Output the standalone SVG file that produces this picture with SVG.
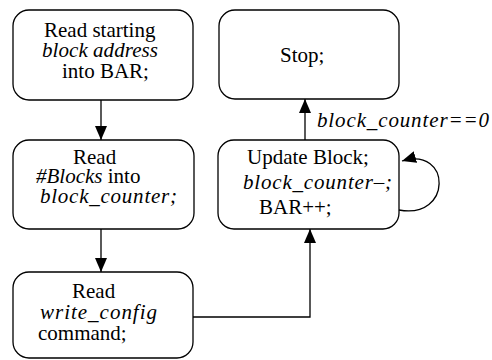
<svg xmlns="http://www.w3.org/2000/svg" width="492" height="360" viewBox="0 0 492 360">
<style>
.box{fill:#fff;stroke:#000;stroke-width:1.3}
text{font-family:'Liberation Serif','Times New Roman',serif;font-size:21px;fill:#000}
.i{font-style:italic}
.c{fill:none;stroke:#000;stroke-width:1.3}
</style>
<defs>
<marker id="ah" markerWidth="14" markerHeight="12" refX="14" refY="6" orient="auto" markerUnits="userSpaceOnUse">
<path d="M0,0 L14,6 L0,12 Z" fill="#000"/>
</marker>
</defs>
<g id="n1">
<rect class="box" x="13" y="10" width="180" height="90" rx="16"/>
<text x="44" y="37">Read starting</text>
<text class="i" x="42" y="57" textLength="116" lengthAdjust="spacing">block address</text>
<text x="62" y="78">into BAR;</text>
</g>
<g id="n2">
<rect class="box" x="13" y="140" width="181" height="89" rx="16"/>
<text x="73" y="164">Read</text>
<text x="36" y="183"><tspan class="i">#Blocks</tspan> into</text>
<text class="i" x="40" y="203" textLength="137" lengthAdjust="spacing">block_counter;</text>
</g>
<g id="n3">
<rect class="box" x="13" y="272" width="180" height="86" rx="16"/>
<text x="72" y="298">Read</text>
<text class="i" x="40" y="319" textLength="117" lengthAdjust="spacing">write_config</text>
<text x="38" y="340">command;</text>
</g>
<g id="n4">
<rect class="box" x="219" y="10" width="180" height="89" rx="16"/>
<text x="280" y="62">Stop;</text>
</g>
<g id="n5">
<rect class="box" x="218" y="140" width="181" height="89" rx="16"/>
<text x="247" y="164">Update Block;</text>
<text class="i" x="243" y="189" textLength="149" lengthAdjust="spacing">block_counter–;</text>
<text x="259" y="214">BAR++;</text>
</g>
<g id="connectors">
<line class="c" x1="101" y1="100" x2="101" y2="140" marker-end="url(#ah)"/>
<line class="c" x1="101" y1="229" x2="101" y2="272" marker-end="url(#ah)"/>
<polyline class="c" points="193,317 310,317 310,229" marker-end="url(#ah)"/>
<line class="c" x1="305" y1="140" x2="305" y2="99" marker-end="url(#ah)"/>
<path class="c" d="M399,210 C452,220 452,146 402,161" marker-end="url(#ah)"/>
<text class="i" x="317" y="127" textLength="172" lengthAdjust="spacing">block_counter==0</text>
</g>
</svg>
